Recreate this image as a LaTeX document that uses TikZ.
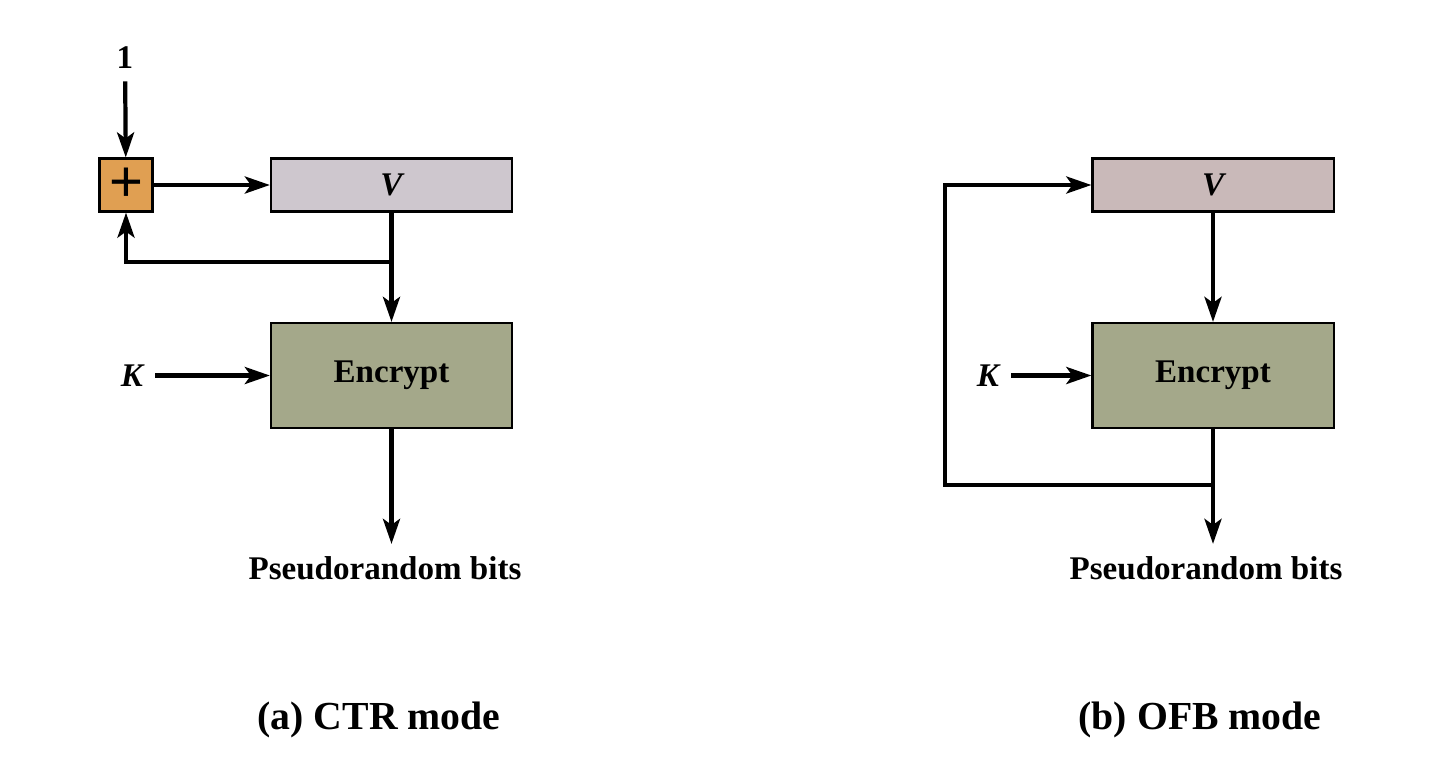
\documentclass[tikz,border=0pt]{standalone}
\usepackage{fontspec}
\setmainfont{Liberation Serif}
\setsansfont{Liberation Sans}
\usetikzlibrary{arrows.meta}

\definecolor{addfill}{HTML}{E09F52}
\definecolor{ctrfill}{HTML}{CEC7CE}
\definecolor{ofbfill}{HTML}{C9B9B9}
\definecolor{encfill}{HTML}{A4A88A}

\newcommand{\lblfont}{\fontsize{9.4}{11}\selectfont\bfseries}
\newcommand{\capfont}{\fontsize{11.3}{13}\selectfont\bfseries}

\tikzset{
  blk/.style={draw, line width=0.6pt, inner sep=0pt, font=\lblfont},
  lbl/.style={font=\lblfont},
  flow/.style={line width=1.2pt, -{Stealth[length=0.25cm,width=0.17cm,inset=0.06cm]}},
  wire/.style={line width=1.2pt},
}

\begin{document}
\begin{tikzpicture}[x=0.01cm, y=-0.01cm]
\pgfmathsetmacro{\xa}{391.5}
\pgfmathsetmacro{\xb}{1213}
\pgfmathsetmacro{\yv}{185}
\pgfmathsetmacro{\ye}{375.5}

\path[use as bounding box, fill=white] (0,0) rectangle (1440,766);

% (a) CTR mode
\node[blk, fill=addfill, minimum width=0.53cm, minimum height=0.53cm,
      font=\sffamily\fontsize{16.5}{16.5}\selectfont] (add) at (126,\yv) {+};
\node[blk, fill=ctrfill, minimum width=2.41cm, minimum height=0.53cm] (va) at (\xa,\yv) {\itshape V};
\node[blk, fill=encfill, minimum width=2.41cm, minimum height=1.05cm] (enca) at (\xa,\ye) {Encrypt};
\node[lbl] (one) at (125,58) {1};
\node[lbl, font=\lblfont\itshape] (ka) at (132,\ye) {K};
\node[lbl] (outa) at (385,568) {Pseudorandom bits};
\node[font=\capfont] (capa) at (379,720) {(a) CTR mode};
\coordinate (fba) at (\xa,262);

\draw[flow] (one) -- (add);
\draw[flow] (add) -- (va);
\draw[flow] (va) -- (enca);
\draw[flow] (fba) -| (add);
\draw[flow] (ka) -- (enca);
\draw[flow] (enca) -- (enca |- outa.north);

% (b) OFB mode
\node[blk, fill=ofbfill, minimum width=2.41cm, minimum height=0.53cm] (vb) at (\xb,\yv) {\itshape V};
\node[blk, fill=encfill, minimum width=2.41cm, minimum height=1.05cm] (encb) at (\xb,\ye) {Encrypt};
\node[lbl, font=\lblfont\itshape] (kb) at (988,\ye) {K};
\node[lbl] (outb) at (1206,568) {Pseudorandom bits};
\node[font=\capfont] (capb) at (1200,720) {(b) OFB mode};
\coordinate (fbb) at (\xb,485);
\coordinate (loopb) at (945,485);

\draw[flow] (vb) -- (encb);
\draw[flow] (kb) -- (encb);
\draw[flow] (encb) -- (encb |- outb.north);
\draw[flow] (fbb) -- (loopb) |- (vb);
\end{tikzpicture}
\end{document}
